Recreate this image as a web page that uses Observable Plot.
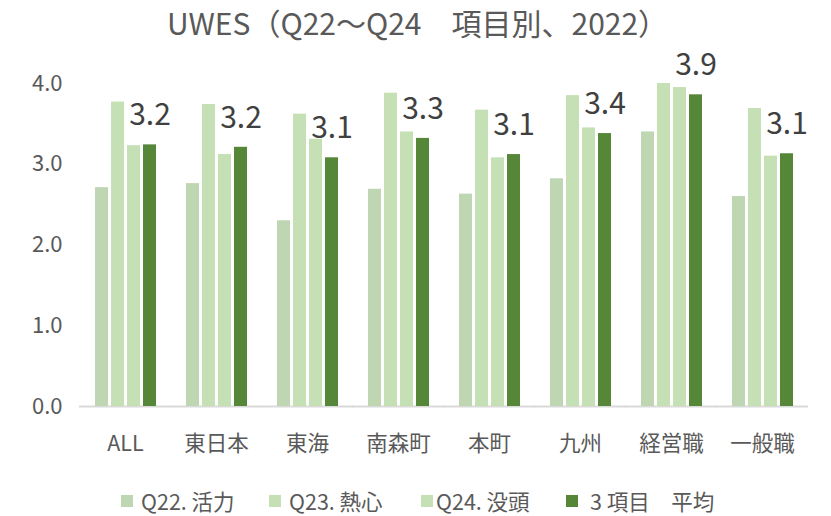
<!DOCTYPE html>
<html>
<head>
<meta charset="utf-8">
<script src="https://cdn.jsdelivr.net/npm/d3@7"></script>
<script src="https://cdn.jsdelivr.net/npm/@observablehq/plot@0.6"></script>
<style>
  html, body { margin: 0; padding: 0; background: #fff; }
  body { width: 831px; height: 516px; overflow: hidden; font-family: "Noto Sans CJK JP", "Noto Sans", sans-serif; }
  #title { position: relative; z-index: 1; top: 3px; height: 38px; line-height: 38px; font-size: 30px; color: #595959; text-align: center; padding-left: 8px; padding-right: 4px; box-sizing: border-box; white-space: pre; }
  #legend { height: 56px; box-sizing: border-box; font-size: 21.5px; color: #595959; line-height: 24px; position: relative; }
  .sw { position: absolute; top: 35px; width: 12px; height: 12px; }
  .lt { position: absolute; top: 29px; white-space: pre; }
</style>
</head>
<body>
<div id="title">UWES（Q22～Q24　項目別、2022）</div>
<div id="chart"></div>
<div id="legend"></div>
<script>
const categories = ["ALL", "東日本", "東海", "南森町", "本町", "九州", "経営職", "一般職"];
const seriesNames = ["Q22. 活力", "Q23. 熱心", "Q24. 没頭", "3 項目　平均"];
const q22 = [2.71, 2.76, 2.30, 2.69, 2.63, 2.82, 3.40, 2.60];
const q23 = [3.77, 3.74, 3.62, 3.88, 3.67, 3.85, 4.00, 3.69];
const q24 = [3.23, 3.12, 3.31, 3.40, 3.08, 3.45, 3.95, 3.10];
const avg3 = [3.24, 3.21, 3.08, 3.32, 3.12, 3.38, 3.86, 3.13];
const yTicks = [0, 1, 2, 3, 4];
const colors = ["#BFD6B3", "#C6E0B5", "#C6E0B5", "#568638"];

const seriesValues = [q22, q23, q24, avg3];
const data = [];
categories.forEach((c, i) => {
  seriesNames.forEach((s, j) => data.push({category: c, series: s, value: seriesValues[j][i]}));
});
const avgData = categories.map((c, i) => ({category: c, series: seriesNames[3], value: avg3[i]}));

const chart = Plot.plot({
  width: 831,
  height: 422,
  marginLeft: 76,
  marginRight: 21,
  marginTop: 45,
  marginBottom: 54,
  style: {fontFamily: '"Noto Sans CJK JP", "Noto Sans", sans-serif', color: "#595959", background: "#fff"},
  fx: {domain: categories, paddingInner: 0.28, paddingOuter: 0.14, label: null},
  x: {domain: seriesNames, paddingInner: 0.2, paddingOuter: 0.05, axis: null},
  y: {domain: [0, 4], axis: null},
  color: {domain: seriesNames, range: colors},
  marks: [
    Plot.ruleY([0], {stroke: "#D9D9D9", strokeWidth: 2, insetLeft: -13, insetRight: -13}),
    Plot.barY(data, {fx: "category", x: "series", y: "value", fill: "series"}),
    Plot.text(avgData, {fx: "category", x: "series", y: "value", text: d => d3.format(".1f")(d.value), dy: -29, fontSize: 30, fill: "#404040"}),
    Plot.axisY({ticks: yTicks, tickFormat: d3.format(".1f"), tickSize: 0, tickPadding: 30, fontSize: 22, fill: "#595959", label: null}),
    Plot.axisFx({anchor: "bottom", tickSize: 0, tickPadding: 29, fontSize: 21.5, fill: "#595959", label: null})
  ]
});
document.getElementById("chart").appendChild(chart);

const legend = document.getElementById("legend");
const swatchX = [121, 269, 421, 566];
const textX = [141, 289, 436, 590];
seriesNames.forEach((s, j) => {
  const sw = document.createElement("div");
  sw.className = "sw";
  sw.style.left = swatchX[j] + "px";
  sw.style.background = colors[j];
  legend.appendChild(sw);
  const t = document.createElement("div");
  t.className = "lt";
  t.style.left = textX[j] + "px";
  t.textContent = s;
  legend.appendChild(t);
});
</script>
</body>
</html>
